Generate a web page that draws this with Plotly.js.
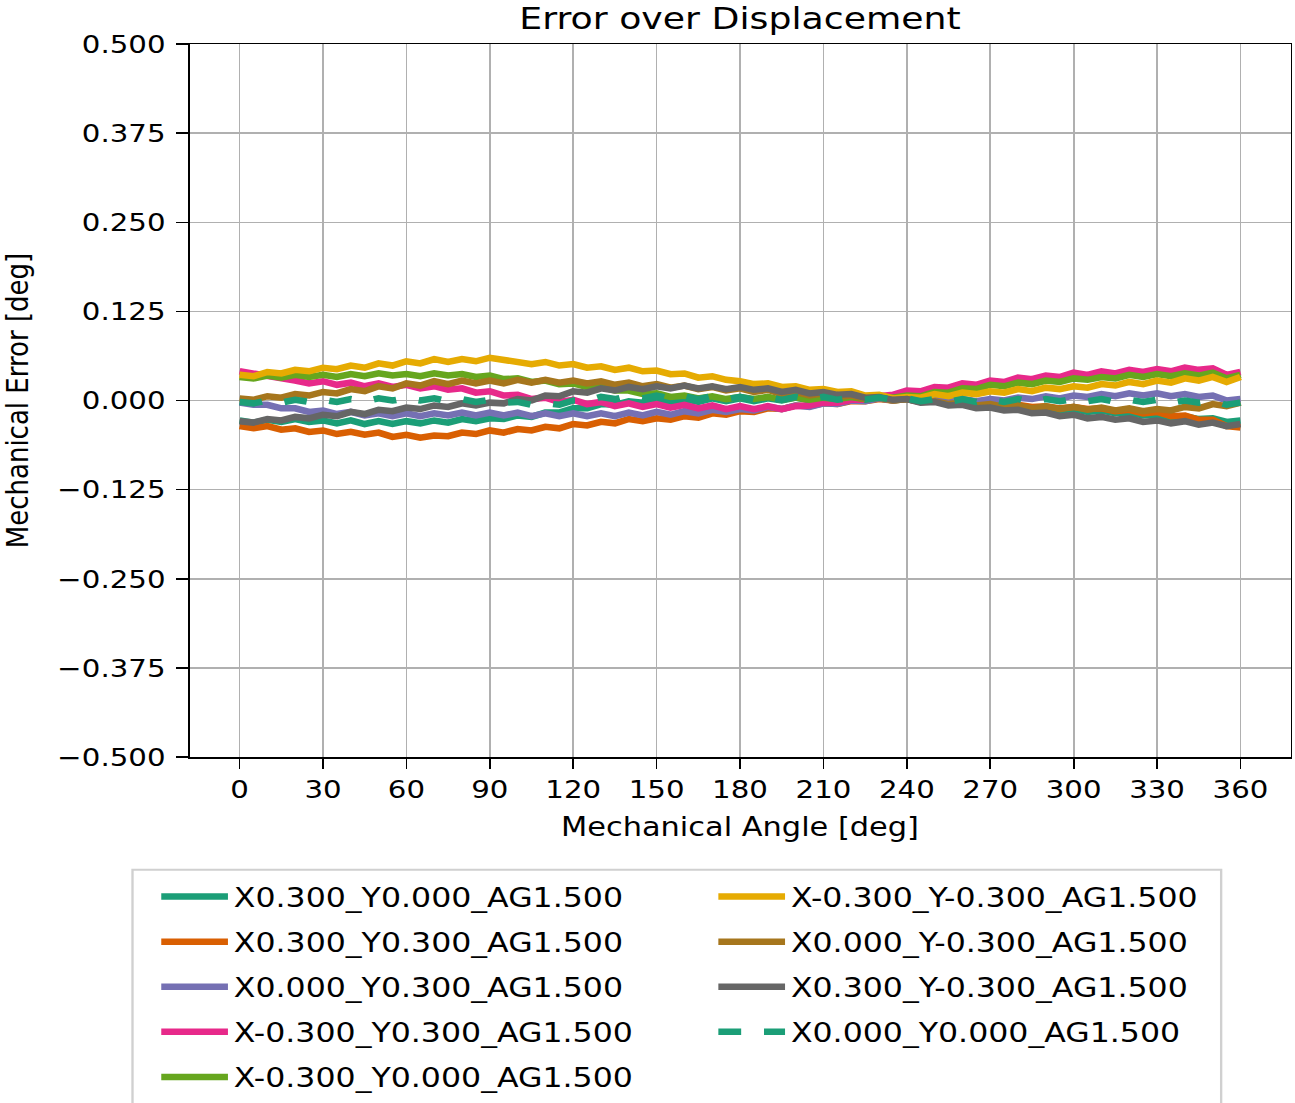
<!DOCTYPE html>
<html>
<head>
<meta charset="utf-8">
<script src="https://cdn.plot.ly/plotly-3.0.1.min.js"></script>
<style>
  html, body { margin: 0; padding: 0; background: #ffffff; overflow: hidden; }
  /* the figure is laid out narrow and widened horizontally, like the original wide-aspect export */
  #chart { width: 1107px; height: 1103px; transform: scaleX(1.17); transform-origin: 0 0; }
</style>
</head>
<body>
<div id="chart"></div>
<script>
// Mechanical angle samples [deg]
const angleDeg = [
  0, 5, 10, 15, 20, 25, 30, 35, 40, 45, 50, 55,
  60, 65, 70, 75, 80, 85, 90, 95, 100, 105, 110, 115,
  120, 125, 130, 135, 140, 145, 150, 155, 160, 165, 170, 175,
  180, 185, 190, 195, 200, 205, 210, 215, 220, 225, 230, 235,
  240, 245, 250, 255, 260, 265, 270, 275, 280, 285, 290, 295,
  300, 305, 310, 315, 320, 325, 330, 335, 340, 345, 350, 355,
  360
];

// Mechanical error [deg] per sensor displacement case
const errX030Y000 = [
  -.028,-.031,-.027,-.030,-.026,-.030,-.028,-.032,-.028,-.033,-.029,-.033,
  -.029,-.032,-.028,-.031,-.026,-.029,-.025,-.026,-.021,-.023,-.017,-.017,
  -.011,-.011,-.005,-.006,-.001,-.003,.002,-.002,.002,-.002,.003,-.001,
  .003,-.001,.003,.000,.004,.000,.004,.001,.004,.000,.003,.000,
  .002,-.002,-.001,-.005,-.003,-.008,-.006,-.010,-.008,-.012,-.010,-.014,
  -.012,-.016,-.014,-.018,-.017,-.021,-.020,-.024,-.022,-.026,-.025,-.030,
  -.028
];
const errX030Y030 = [
  -.036,-.039,-.036,-.041,-.039,-.044,-.042,-.047,-.044,-.048,-.045,-.051,
  -.048,-.052,-.049,-.050,-.045,-.047,-.042,-.045,-.040,-.042,-.037,-.039,
  -.033,-.035,-.030,-.032,-.026,-.029,-.025,-.027,-.022,-.024,-.018,-.020,
  -.015,-.016,-.011,-.012,-.007,-.008,-.004,-.005,-.001,-.001,.002,.000,
  .002,-.001,-.001,-.004,-.003,-.007,-.005,-.008,-.006,-.009,-.008,-.011,
  -.009,-.012,-.011,-.015,-.013,-.018,-.016,-.022,-.021,-.027,-.027,-.036,
  -.038
];
const errX000Y030 = [
  -.003,-.006,-.006,-.011,-.011,-.016,-.014,-.019,-.016,-.021,-.018,-.022,
  -.018,-.022,-.018,-.021,-.017,-.021,-.017,-.021,-.017,-.022,-.018,-.022,
  -.018,-.022,-.018,-.022,-.017,-.021,-.016,-.020,-.015,-.018,-.013,-.016,
  -.012,-.014,-.009,-.012,-.007,-.009,-.004,-.005,.000,-.001,.003,.000,
  .003,.000,.003,-.001,.002,-.001,.002,.000,.004,.002,.006,.003,
  .007,.005,.009,.006,.010,.007,.010,.006,.009,.005,.007,.000,
  .002
];
const errXm030Y030 = [
  .041,.038,.036,.031,.028,.024,.027,.022,.025,.020,.024,.019,
  .022,.017,.020,.015,.017,.011,.013,.007,.008,.002,.004,-.002,
  .001,-.005,-.002,-.008,-.004,-.009,-.005,-.010,-.006,-.011,-.007,-.012,
  -.008,-.012,-.008,-.012,-.008,-.007,-.003,-.003,.001,.001,.006,.008,
  .014,.013,.019,.018,.024,.022,.028,.026,.032,.030,.035,.033,
  .039,.036,.041,.038,.043,.040,.044,.041,.046,.043,.045,.036,
  .040
];
const errXm030Y000 = [
  .033,.031,.035,.032,.036,.033,.036,.033,.037,.034,.038,.035,
  .037,.034,.038,.035,.037,.033,.035,.030,.031,.026,.028,.023,
  .024,.019,.019,.014,.014,.009,.010,.005,.007,.003,.006,.002,
  .005,.002,.005,.001,.004,.001,.004,.002,.005,.002,.006,.004,
  .007,.006,.012,.011,.017,.016,.022,.020,.025,.023,.028,.026,
  .031,.029,.033,.031,.036,.033,.037,.034,.038,.035,.039,.031,
  .036
];
const errXm030Ym030 = [
  .036,.034,.040,.038,.043,.041,.046,.044,.049,.046,.052,.049,
  .055,.052,.058,.054,.058,.055,.060,.057,.055,.051,.054,.049,
  .051,.046,.048,.043,.046,.041,.042,.037,.038,.032,.034,.029,
  .027,.023,.024,.019,.020,.015,.016,.012,.013,.007,.008,.003,
  .005,.004,.009,.006,.011,.009,.013,.011,.016,.013,.018,.016,
  .020,.018,.023,.021,.026,.023,.028,.025,.031,.028,.033,.026,
  .033
];
const errX000Ym030 = [
  .003,.001,.006,.004,.009,.007,.012,.010,.016,.013,.020,.017,
  .024,.021,.027,.023,.028,.024,.028,.024,.029,.025,.029,.025,
  .028,.024,.027,.022,.025,.020,.023,.018,.021,.016,.019,.014,
  .017,.012,.015,.009,.012,.007,.010,.005,.007,.002,.004,.000,
  .002,-.002,-.001,-.005,-.003,-.007,-.005,-.009,-.007,-.011,-.008,-.012,
  -.009,-.013,-.010,-.014,-.011,-.015,-.012,-.014,-.009,-.011,-.005,-.008,
  -.003
];
const errX030Ym030 = [
  -.029,-.031,-.026,-.028,-.023,-.025,-.020,-.022,-.016,-.019,-.013,-.015,
  -.010,-.012,-.007,-.009,-.004,-.007,-.003,-.004,.002,.000,.007,.006,
  .013,.011,.017,.014,.019,.016,.020,.017,.021,.017,.020,.016,
  .019,.015,.017,.012,.015,.010,.012,.008,.009,.004,.005,.001,
  .002,-.003,-.002,-.007,-.006,-.011,-.010,-.014,-.013,-.018,-.017,-.022,
  -.020,-.025,-.023,-.027,-.025,-.030,-.028,-.032,-.029,-.034,-.031,-.036,
  -.033
];
const errX000Y000 = [
  -.002,-.004,.000,-.003,.001,-.002,.001,-.002,.002,-.001,.003,.000,
  .003,.000,.003,-.001,.002,-.002,.001,-.003,-.002,-.006,-.004,-.006,
  .000,.000,.005,.002,.006,.003,.007,.003,.006,.002,.006,.002,
  .005,.001,.005,.001,.005,.002,.005,.001,.004,.001,.004,.001,
  .003,-.001,.002,-.002,.002,-.002,.001,-.002,.002,-.002,.002,-.001,
  .002,-.001,.002,-.002,.001,-.002,.001,-.003,.000,-.003,-.001,-.006,
  -.003
];

// Case names, in plotting order
const caseNames = [
  'X0.300_Y0.000_AG1.500',
  'X0.300_Y0.300_AG1.500',
  'X0.000_Y0.300_AG1.500',
  'X-0.300_Y0.300_AG1.500',
  'X-0.300_Y0.000_AG1.500',
  'X-0.300_Y-0.300_AG1.500',
  'X0.000_Y-0.300_AG1.500',
  'X0.300_Y-0.300_AG1.500',
  'X0.000_Y0.000_AG1.500'
];
const caseErrors = [
  errX030Y000, errX030Y030, errX000Y030, errXm030Y030, errXm030Y000,
  errXm030Ym030, errX000Ym030, errX030Ym030, errX000Y000
];

// Axis ticks
const xTickVals = [0, 30, 60, 90, 120, 150, 180, 210, 240, 270, 300, 330, 360];
const yTickVals = [-0.5, -0.375, -0.25, -0.125, 0, 0.125, 0.25, 0.375, 0.5];
const yTickText = ['\u22120.500', '\u22120.375', '\u22120.250', '\u22120.125', '0.000', '0.125', '0.250', '0.375', '0.500'];

// Dark2 palette
const lineColors = ['#1b9e77', '#d95f02', '#7570b3', '#e7298a', '#66a61e', '#e6ab02', '#a6761d', '#666666', '#1b9e77'];
const lineDash = ['solid', 'solid', 'solid', 'solid', 'solid', 'solid', 'solid', 'solid', 'dash'];

const FONT = 'DejaVu Sans, Verdana, sans-serif';

const traces = caseNames.map((name, i) => ({
  type: 'scatter',
  mode: 'lines',
  name: name,
  x: angleDeg,
  y: caseErrors[i],
  line: { color: lineColors[i], width: 6.5, dash: lineDash[i] },
  legend: i < 5 ? 'legend' : 'legend2',
  legendgroup: 'g' + i
}));

// two legend columns inside one shared frame
const legendCommon = {
  orientation: 'v',
  xanchor: 'left',
  yanchor: 'top',
  bgcolor: 'rgba(0,0,0,0)',
  borderwidth: 0,
  font: { family: FONT, size: 27, color: '#000000' },
  tracegroupgap: 7,
  itemwidth: 57
};

const layout = {
  width: 1107,
  height: 1103,
  paper_bgcolor: '#ffffff',
  plot_bgcolor: '#ffffff',
  margin: { l: 162, r: 4, t: 44, b: 346, autoexpand: false },
  title: {
    text: 'Error over Displacement',
    font: { family: FONT, size: 31, color: '#000000' },
    x: 0.5, xref: 'paper', xanchor: 'center',
    y: 0.9837, yref: 'container', yanchor: 'middle'
  },
  xaxis: {
    range: [-18, 378],
    tickvals: xTickVals,
    ticks: 'outside', ticklen: 10, tickwidth: 1.5, tickcolor: '#000000',
    tickfont: { family: FONT, size: 25, color: '#000000' },
    showline: true, linecolor: '#000000', linewidth: 1.5, mirror: true,
    showgrid: true, gridcolor: '#b0b0b0', gridwidth: 1.5,
    zeroline: false,
    title: { text: 'Mechanical Angle [deg]', font: { family: FONT, size: 26, color: '#000000' }, standoff: 14 }
  },
  yaxis: {
    range: [-0.5, 0.5],
    tickvals: yTickVals,
    ticktext: yTickText,
    ticks: 'outside', ticklen: 10, tickwidth: 1.5, tickcolor: '#000000',
    tickfont: { family: FONT, size: 25, color: '#000000' },
    ticklabelstandoff: 4,
    showline: true, linecolor: '#000000', linewidth: 1.5, mirror: true,
    showgrid: true, gridcolor: '#b0b0b0', gridwidth: 1.5,
    zeroline: false,
    title: { text: 'Mechanical Error [deg]', font: { family: FONT, size: 26, color: '#000000' }, standoff: 28 }
  },
  legend: Object.assign({}, legendCommon, { x: -0.031, y: -0.162 }),
  legend2: Object.assign({}, legendCommon, { x: 0.475, y: -0.162 }),
  shapes: [{
    type: 'rect', xref: 'paper', yref: 'paper',
    x0: -0.0518, x1: 0.937, y0: -0.52, y1: -0.158,
    line: { color: '#d0d0d0', width: 2 },
    fillcolor: 'rgba(255,255,255,0.8)',
    layer: 'below'
  }],
  showlegend: true
};

Plotly.newPlot('chart', traces, layout, { displayModeBar: false, staticPlot: true });
</script>
</body>
</html>
